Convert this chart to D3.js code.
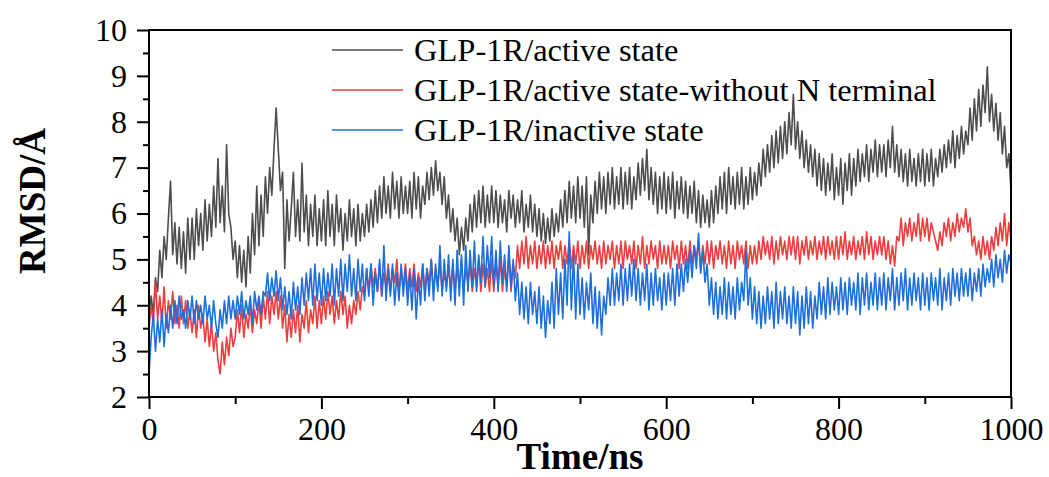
<!DOCTYPE html>
<html>
<head>
<meta charset="utf-8">
<script src="https://cdn.jsdelivr.net/npm/d3@7"></script>
<style>
  body { margin: 0; background: #fff; }
  svg { display: block; font-family: "Liberation Serif", "Times New Roman", serif; }
</style>
</head>
<body>
<script>
// time grid, ns (one sample every 2.5 ns)
var timeNs = d3.range(0, 1000.1, 2.5);

// RMSD values (Å), one row = 50 ns
var activeState = [
  3.6, 4.2, 3.8, 4.6, 4.3, 5.2, 4.6, 5.5, 5.0, 5.9, 6.7, 5.1, 5.8, 4.9, 5.7, 4.8, 5.6, 4.7, 5.9, 5.0,
  5.9, 5.0, 6.1, 5.3, 6.0, 5.2, 6.3, 5.4, 6.2, 5.5, 6.6, 5.7, 7.2, 5.8, 6.6, 5.6, 7.5, 6.0, 5.7, 5.0,
  5.4, 4.6, 5.3, 4.5, 5.2, 4.4, 5.5, 4.7, 6.0, 5.1, 6.6, 5.3, 6.4, 5.5, 6.8, 6.0, 7.0, 6.4, 7.4, 8.3,
  7.4, 6.5, 6.9, 4.8, 6.3, 5.4, 6.1, 6.9, 5.5, 6.3, 5.4, 7.1, 5.6, 6.4, 5.3, 6.2, 5.5, 6.4, 5.3, 6.1,
  5.4, 6.3, 5.3, 6.5, 5.5, 6.2, 5.3, 6.4, 5.6, 6.1, 5.2, 6.0, 5.4, 6.3, 5.5, 6.1, 5.3, 6.2, 5.4, 6.0,
  5.5, 6.2, 5.6, 6.3, 5.7, 6.5, 5.8, 6.6, 5.9, 6.8, 6.0, 6.6, 5.9, 6.9, 6.1, 6.7, 5.9, 6.8, 6.0, 6.6,
  6.0, 6.7, 5.9, 6.9, 6.1, 6.8, 5.9, 6.6, 6.2, 6.9, 6.3, 7.0, 6.4, 7.15, 6.5, 6.9, 6.2, 6.8, 5.9, 6.4,
  5.6, 6.1, 5.4, 5.9, 5.1, 5.7, 5.2, 5.9, 5.4, 6.2, 5.6, 6.4, 5.7, 6.5, 5.8, 6.6, 5.7, 6.4, 5.8, 6.6,
  5.8, 6.5, 5.7, 6.4, 5.8, 6.3, 5.6, 6.5, 5.9, 6.4, 5.7, 6.3, 5.8, 6.5, 5.6, 6.2, 5.7, 6.4, 5.6, 6.2,
  5.5, 6.1, 5.4, 6.0, 5.35, 5.9, 5.4, 6.1, 5.5, 6.0, 5.6, 6.3, 5.7, 6.5, 5.8, 6.7, 5.9, 6.6, 5.8, 6.8,
  5.9, 6.6, 5.7, 6.8, 5.1, 6.4, 5.8, 6.7, 6.0, 6.9, 6.1, 6.8, 6.0, 6.9, 6.2, 7.0, 6.1, 6.8, 6.2, 7.0,
  6.1, 6.9, 6.2, 7.0, 6.1, 6.8, 6.3, 7.1, 6.4, 7.2, 6.5, 7.4, 6.3, 7.0, 6.2, 6.9, 6.0, 6.8, 6.1, 6.9,
  6.0, 6.8, 6.1, 6.9, 5.9, 6.7, 6.1, 6.8, 6.0, 6.7, 5.9, 6.6, 6.0, 6.7, 5.8, 6.5, 5.7, 6.4, 5.8, 6.3,
  5.7, 6.5, 5.8, 6.6, 6.0, 6.8, 6.1, 6.9, 6.0, 7.0, 6.2, 6.8, 6.1, 6.9, 6.2, 7.0, 6.1, 6.8, 6.2, 7.0,
  6.3, 6.9, 6.4, 7.1, 6.6, 7.4, 6.8, 7.5, 6.9, 7.7, 7.0, 7.8, 7.1, 7.9, 7.2, 8.0, 7.3, 8.2, 7.5, 8.6,
  7.4, 8.0, 7.2, 7.8, 7.0, 7.6, 6.9, 7.5, 6.8, 7.4, 6.6, 7.3, 6.5, 7.2, 6.4, 7.1, 6.5, 7.3, 6.3, 7.0,
  6.4, 7.2, 6.2, 7.1, 6.5, 7.3, 6.4, 7.2, 6.6, 7.4, 6.7, 7.3, 6.8, 7.5, 6.7, 7.4, 6.9, 7.6, 6.8, 7.5,
  6.9, 7.5, 6.8, 7.6, 7.0, 7.9, 6.9, 7.5, 6.8, 7.4, 6.7, 7.3, 6.6, 7.4, 6.7, 7.2, 6.6, 7.3, 6.7, 7.4,
  6.6, 7.3, 6.7, 7.4, 6.6, 7.2, 6.8, 7.4, 6.9, 7.5, 7.0, 7.6, 7.1, 7.8, 7.0, 7.7, 7.2, 7.9, 7.3, 7.8,
  7.5, 8.3, 7.6, 8.5, 7.8, 8.7, 7.9, 8.8, 8.2, 9.2, 8.0, 8.6, 7.8, 8.4, 7.6, 8.2, 7.3, 7.9, 7.0, 7.3,
  6.5
];

var activeNoNterm = [
  3.5, 4.0, 3.6, 4.5, 3.7, 4.2, 3.6, 4.4, 3.5, 4.1, 3.7, 4.3, 3.6, 4.0, 3.5, 4.2, 3.6, 4.1, 3.5, 3.9,
  3.4, 3.9, 3.3, 4.0, 3.5, 3.8, 3.2, 3.7, 3.1, 3.6, 3.0, 3.4, 2.8, 2.5, 3.2, 2.7, 3.3, 2.9, 3.5, 3.1,
  3.3, 3.9, 3.4, 4.0, 3.3, 3.8, 3.5, 4.0, 3.4, 3.9, 3.6, 4.1, 3.5, 4.2, 3.7, 4.3, 3.6, 4.2, 3.8, 4.3,
  3.7, 4.2, 3.5, 4.0, 3.2, 3.8, 3.3, 3.9, 3.4, 4.0, 3.2, 3.8, 3.5, 4.1, 3.4, 3.9, 3.6, 4.2, 3.5, 4.1,
  3.6, 4.2, 3.7, 4.3, 3.8, 4.2, 3.6, 4.1, 3.7, 4.3, 3.8, 4.2, 3.5, 4.0, 3.6, 4.1, 3.8, 4.3, 3.9, 4.4,
  4.2, 4.8, 4.3, 4.9, 4.4, 4.8, 4.3, 4.9, 4.2, 4.7, 4.4, 4.9, 4.3, 4.8, 4.5, 5.0, 4.3, 4.8, 4.4, 4.9,
  4.3, 4.8, 4.4, 4.9, 4.3, 4.7, 4.4, 4.9, 4.3, 4.8, 4.5, 5.0, 4.3, 4.8, 4.4, 4.9, 4.3, 4.7, 4.4, 4.8,
  4.4, 4.9, 4.3, 4.8, 4.4, 5.0, 4.3, 4.8, 4.5, 4.9, 4.3, 4.8, 4.4, 5.0, 4.3, 4.9, 4.4, 4.8, 4.3, 5.0,
  4.3, 4.9, 4.4, 5.0, 4.3, 4.8, 4.4, 5.1, 4.3, 4.9, 4.6, 5.3, 4.8, 5.4, 4.9, 5.5, 4.8, 5.3, 4.9, 5.4,
  4.8, 5.3, 4.9, 5.4, 4.8, 5.3, 4.9, 5.4, 4.8, 5.3, 5.0, 5.4, 4.8, 5.3, 4.9, 5.4, 4.8, 5.3, 4.9, 5.4,
  4.8, 5.3, 4.9, 5.4, 4.8, 5.3, 5.0, 5.4, 4.9, 5.3, 4.8, 5.4, 4.9, 5.3, 5.0, 5.4, 4.8, 5.3, 4.9, 5.4,
  4.8, 5.4, 5.0, 5.3, 4.9, 5.4, 4.8, 5.3, 4.9, 5.5, 4.8, 5.3, 4.9, 5.4, 5.0, 5.3, 4.8, 5.4, 4.9, 5.3,
  4.9, 5.3, 4.8, 5.4, 5.0, 5.3, 4.8, 5.4, 4.9, 5.3, 4.8, 5.4, 4.9, 5.3, 5.0, 5.4, 4.8, 5.3, 4.9, 5.4,
  4.9, 5.4, 4.8, 5.3, 5.0, 5.4, 4.9, 5.3, 4.8, 5.4, 4.9, 5.3, 4.8, 5.4, 5.0, 5.3, 4.9, 5.4, 4.8, 5.3,
  4.9, 5.3, 4.9, 5.4, 5.0, 5.5, 5.1, 5.4, 5.0, 5.5, 4.9, 5.4, 5.0, 5.5, 5.1, 5.4, 5.0, 5.5, 5.1, 5.5,
  5.0, 5.5, 4.9, 5.4, 5.1, 5.5, 5.0, 5.4, 5.1, 5.5, 5.0, 5.4, 5.1, 5.5, 5.0, 5.5, 5.1, 5.4, 5.0, 5.5,
  5.0, 5.5, 5.1, 5.6, 5.0, 5.4, 5.1, 5.5, 5.0, 5.4, 5.1, 5.5, 5.0, 5.6, 5.1, 5.5, 5.0, 5.4, 5.1, 5.5,
  5.1, 5.5, 5.0, 5.4, 4.9, 5.3, 4.85, 5.5, 5.4, 5.9, 5.3, 5.8, 5.5, 5.9, 5.4, 5.8, 5.5, 6.0, 5.4, 5.9,
  5.5, 5.9, 5.4, 5.8, 5.6, 5.4, 5.2, 5.6, 5.3, 5.8, 5.5, 5.9, 5.4, 5.8, 5.5, 6.0, 5.6, 5.9, 5.7, 6.1,
  5.6, 5.9, 5.3, 5.5, 5.1, 5.4, 5.0, 5.5, 5.1, 5.4, 5.0, 5.5, 5.2, 5.7, 5.3, 5.8, 5.4, 6.0, 5.3, 5.8,
  5.4
];

var inactiveState = [
  2.5, 3.3, 3.8, 3.0, 3.7, 3.2, 3.9, 3.1, 3.8, 3.4, 4.0, 3.5, 4.1, 3.6, 4.2, 3.7, 3.9, 3.5, 4.1, 3.7,
  4.2, 3.6, 4.1, 3.7, 4.0, 3.6, 4.2, 3.7, 4.0, 3.5, 4.1, 3.6, 3.3, 3.9, 3.5, 4.1, 3.6, 4.2, 3.7, 4.1,
  3.7, 4.2, 3.8, 4.3, 3.7, 4.1, 3.8, 4.2, 3.6, 4.3, 3.9, 4.2, 3.8, 4.3, 4.2, 4.7, 4.1, 4.6, 4.2, 4.75,
  4.1, 4.6, 3.9, 4.4, 3.8, 4.3, 3.7, 4.5, 3.9, 4.4, 3.8, 4.6, 4.0, 4.7, 4.1, 4.8, 4.0, 4.9, 4.1, 4.7,
  4.0, 4.8, 4.1, 4.7, 4.2, 4.9, 4.0, 4.8, 4.2, 5.0, 4.1, 4.9, 4.3, 5.1, 4.2, 4.8, 4.1, 5.0, 4.3, 4.9,
  4.1, 4.8, 4.2, 4.9, 4.0, 4.7, 4.3, 5.0, 4.2, 5.3, 4.1, 4.8, 4.2, 4.9, 4.0, 4.7, 4.1, 4.9, 4.2, 4.8,
  4.0, 4.7, 3.9, 4.8, 3.7, 4.6, 4.0, 4.9, 4.1, 4.8, 4.2, 5.0, 4.1, 4.9, 4.3, 5.3, 4.2, 5.0, 4.3, 5.1,
  4.1, 5.0, 4.0, 5.2, 4.2, 5.1, 4.0, 5.3, 4.3, 5.2, 4.4, 5.4, 4.3, 5.1, 4.5, 5.5, 4.4, 5.3, 4.6, 5.5,
  4.4, 5.2, 4.3, 5.4, 4.5, 5.1, 4.3, 5.3, 4.4, 5.0, 4.1, 4.7, 3.8, 4.5, 3.7, 4.4, 3.6, 4.5, 3.8, 4.3,
  3.6, 4.4, 3.5, 4.2, 3.3, 4.1, 3.6, 4.5, 3.5, 4.8, 3.8, 4.7, 3.7, 5.0, 4.0, 5.6, 3.9, 5.1, 3.7, 4.9,
  3.8, 4.6, 3.7, 4.5, 3.9, 4.7, 3.6, 4.4, 3.5, 4.3, 3.35, 4.2, 3.8, 4.6, 4.0, 4.8, 4.0, 4.7, 4.1, 4.9,
  4.0, 4.8, 4.1, 4.9, 4.2, 5.0, 4.1, 4.8, 4.0, 4.7, 4.1, 4.9, 3.9, 4.7, 4.0, 4.8, 4.1, 4.6, 3.9, 4.7,
  4.0, 4.7, 4.1, 4.8, 4.0, 4.9, 4.2, 4.9, 4.3, 5.0, 4.5, 5.2, 4.6, 5.3, 4.8, 5.57, 4.7, 5.2, 4.5, 4.9,
  4.0, 4.6, 3.8, 4.5, 3.7, 4.4, 3.8, 4.6, 3.7, 4.5, 3.8, 4.4, 3.7, 4.6, 3.9, 4.5, 4.1, 5.2, 4.0, 4.6,
  3.7, 4.4, 3.6, 4.3, 3.5, 4.2, 3.6, 4.4, 3.7, 4.3, 3.5, 4.5, 3.6, 4.3, 3.7, 4.4, 3.6, 4.2, 3.5, 4.4,
  3.6, 4.3, 3.35, 4.2, 3.5, 4.4, 3.6, 4.3, 3.5, 4.2, 3.7, 4.5, 3.8, 4.4, 3.7, 4.6, 3.8, 4.5, 3.9, 4.4,
  3.8, 4.6, 3.9, 4.5, 3.8, 4.6, 4.0, 4.5, 3.9, 4.7, 3.8, 4.6, 4.0, 4.7, 3.9, 4.5, 4.0, 4.7, 3.9, 4.6,
  4.0, 4.7, 3.9, 4.6, 4.1, 4.8, 3.9, 4.6, 4.0, 4.7, 4.1, 4.8, 3.9, 4.6, 4.0, 4.7, 4.1, 4.6, 3.9, 4.7,
  4.0, 4.6, 3.9, 4.7, 4.1, 4.6, 4.0, 4.8, 3.9, 4.6, 4.1, 4.7, 4.0, 4.8, 4.2, 4.7, 4.1, 4.8, 4.2, 4.7,
  4.2, 4.8, 4.1, 4.7, 4.3, 4.8, 4.2, 4.9, 4.4, 4.8, 4.5, 5.0, 4.4, 5.1, 4.6, 5.0, 4.5, 5.2, 4.7, 5.1,
  4.9
];

var seriesNames = ["GLP-1R/active state", "GLP-1R/active state-without N terminal", "GLP-1R/inactive state"];
var seriesValues = [activeState, activeNoNterm, inactiveState];
var seriesColors = ["#4d4d4d", "#ef3d3d", "#1d6fdc"];

var xMajor = [0, 200, 400, 600, 800, 1000];
var xMinor = [100, 300, 500, 700, 900];
var yMajor = [2, 3, 4, 5, 6, 7, 8, 9, 10];
var yMinor = [2.5, 3.5, 4.5, 5.5, 6.5, 7.5, 8.5, 9.5];


var width = 1049, height = 477;
var plotL = 149, plotR = 1011, plotT = 30, plotB = 397;

var svg = d3.select("body").append("svg").attr("width", width).attr("height", height);

var x = d3.scaleLinear().domain([0, 1000]).range([plotL, plotR]);
var y = d3.scaleLinear().domain([2, 10]).range([plotB, plotT]);

// lines: gray first, blue on top
var line = d3.line()
      .x(function (d) { return x(d[0]); })
      .y(function (d) { return y(d[1]); });

seriesValues.forEach(function (vals, k) {
  var pts = vals.map(function (v, i) { return [timeNs[i], v]; });
  svg.append("path")
        .datum(pts)
        .attr("fill", "none")
        .attr("stroke", seriesColors[k])
        .attr("stroke-width", 1.6)
        .attr("stroke-linejoin", "round")
        .attr("d", line);
});

// axes
svg.append("g").attr("transform", "translate(0," + plotB + ")")
      .call(d3.axisBottom(x).tickValues(xMajor).tickSize(12).tickSizeOuter(0).tickPadding(8).tickFormat(d3.format("d")));
svg.append("g").attr("transform", "translate(0," + plotB + ")")
      .call(d3.axisBottom(x).tickValues(xMinor).tickSize(7).tickSizeOuter(0).tickFormat(""));
svg.append("g").attr("transform", "translate(" + plotL + ",0)")
      .call(d3.axisLeft(y).tickValues(yMajor).tickSize(12).tickSizeOuter(0).tickPadding(10).tickFormat(d3.format("d")));
svg.append("g").attr("transform", "translate(" + plotL + ",0)")
      .call(d3.axisLeft(y).tickValues(yMinor).tickSize(6).tickSizeOuter(0).tickFormat(""));

svg.selectAll(".domain").remove();
svg.selectAll(".tick line").attr("stroke", "#000").attr("stroke-width", 2);
svg.selectAll(".tick text")
      .attr("fill", "#000")
      .style("font-family", "'Liberation Serif', 'Times New Roman', serif")
      .style("font-size", "32px");

// frame
svg.append("rect")
      .attr("x", plotL).attr("y", plotT)
      .attr("width", plotR - plotL).attr("height", plotB - plotT)
      .attr("fill", "none").attr("stroke", "#000").attr("stroke-width", 2);

// axis titles
svg.append("text")
      .attr("x", (plotL + plotR) / 2).attr("y", 469)
      .attr("text-anchor", "middle")
      .style("font-size", "37px").style("font-weight", "bold")
      .text("Time/ns");

svg.append("text")
      .attr("transform", "translate(45,201) rotate(-90)")
      .attr("text-anchor", "middle")
      .style("font-size", "37px").style("font-weight", "bold")
      .text("RMSD/Å");

// legend
var legend = svg.append("g").attr("transform", "translate(332,50)");
legend.selectAll("line")
      .data(seriesNames)
      .enter().append("line")
      .attr("x1", 0).attr("x2", 71)
      .attr("y1", function (d, i) { return i * 40; })
      .attr("y2", function (d, i) { return i * 40; })
      .attr("stroke", function (d, i) { return seriesColors[i]; })
      .attr("stroke-width", 1.5);
legend.selectAll("text")
      .data(seriesNames)
      .enter().append("text")
      .attr("x", 82)
      .attr("y", function (d, i) { return i * 40 + 11; })
      .style("font-size", "32.5px")
      .text(function (d) { return d; });
</script>
</body>
</html>
